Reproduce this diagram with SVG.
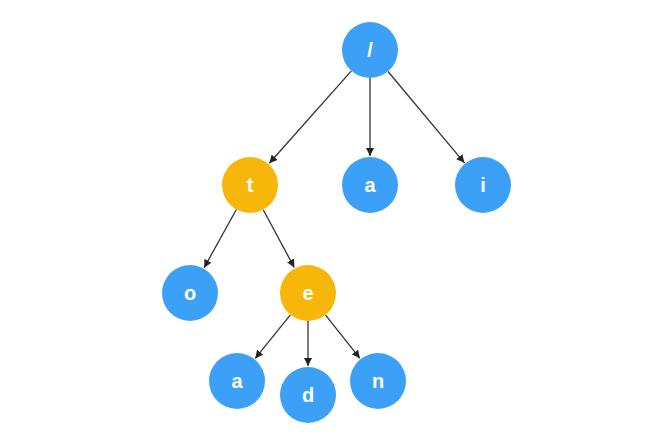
<svg xmlns="http://www.w3.org/2000/svg" width="655" height="443" viewBox="0 0 655 443">
<defs>
<marker id="arr" viewBox="0 0 10 10" refX="10" refY="5" markerWidth="8" markerHeight="8" markerUnits="userSpaceOnUse" orient="auto">
<path d="M0,0 L10,5 L0,10 z" fill="#222"/>
</marker>
<style>
.blue{fill:#3DA0F7}
.orange{fill:#F7B70A}
.lbl{font-family:"Liberation Sans",Arial,sans-serif;font-size:20px;font-weight:bold;fill:#fff;text-anchor:middle;dominant-baseline:central}
.edge{stroke:#333;stroke-width:1.3;fill:none;marker-end:url(#arr)}
</style>
</defs>
<rect width="655" height="443" fill="#fff"/>
<g id="connectors">
<line class="edge" x1="351.4" y1="70.9" x2="269.3" y2="163.3"/>
<line class="edge" x1="370" y1="78" x2="370" y2="156"/>
<line class="edge" x1="388" y1="71.5" x2="464.4" y2="162.8"/>
<line class="edge" x1="236.4" y1="209.5" x2="204.1" y2="267.7"/>
<line class="edge" x1="263.2" y1="209.7" x2="294.3" y2="267.5"/>
<line class="edge" x1="290.4" y1="314.8" x2="255.2" y2="358.4"/>
<line class="edge" x1="308" y1="321" x2="308" y2="366"/>
<line class="edge" x1="325.4" y1="314.9" x2="359.9" y2="358.3"/>
</g>
<g id="root"><circle class="blue" cx="370" cy="50" r="28"/><text class="lbl" x="370" y="50">/</text></g>
<g id="t"><circle class="orange" cx="250" cy="185" r="28"/><text class="lbl" x="250" y="185">t</text></g>
<g id="a1"><circle class="blue" cx="370" cy="185" r="28"/><text class="lbl" x="370" y="185">a</text></g>
<g id="i"><circle class="blue" cx="483" cy="185" r="28"/><text class="lbl" x="483" y="185">i</text></g>
<g id="o"><circle class="blue" cx="190" cy="293" r="28"/><text class="lbl" x="190" y="293">o</text></g>
<g id="e"><circle class="orange" cx="308" cy="293" r="28"/><text class="lbl" x="308" y="293">e</text></g>
<g id="a2"><circle class="blue" cx="237" cy="381" r="28"/><text class="lbl" x="237" y="381">a</text></g>
<g id="d"><circle class="blue" cx="308" cy="395" r="28"/><text class="lbl" x="308" y="395">d</text></g>
<g id="n"><circle class="blue" cx="378" cy="381" r="28"/><text class="lbl" x="378" y="381">n</text></g>
</svg>
